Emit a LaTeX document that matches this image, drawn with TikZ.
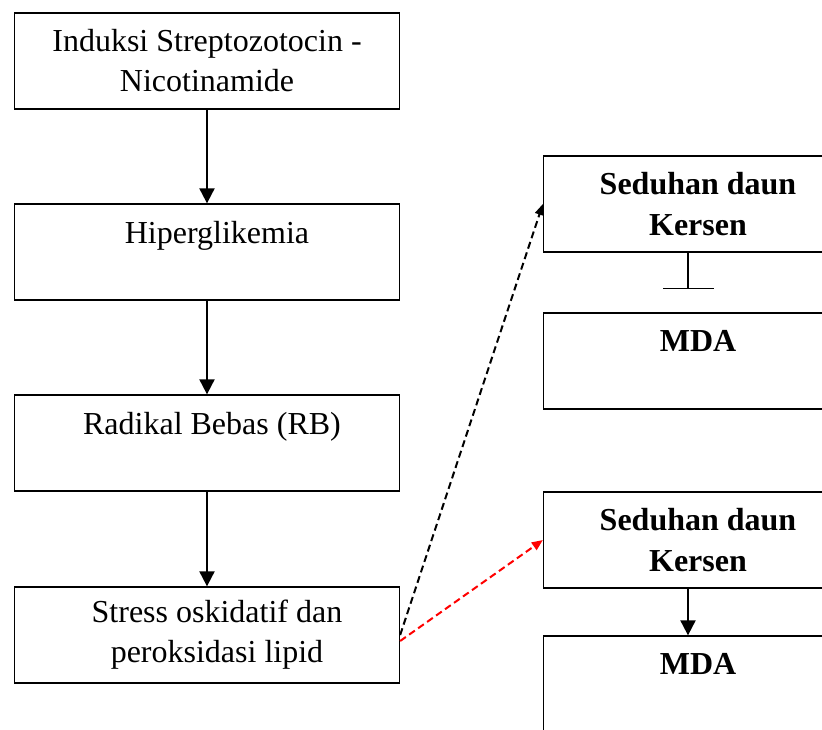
\documentclass[tikz,border=0pt]{standalone}
\usepackage{fontspec}
\setmainfont{Liberation Serif}
\usetikzlibrary{arrows.meta}
\newcommand{\indt}{\hspace*{20pt}}

\begin{document}
\begin{tikzpicture}[x=1pt,y=-1pt,line width=2pt,
	flow box/.style={rectangle,draw,line width=1.3pt,minimum width=385pt,minimum height=96pt,align=center,font=\fontsize{32}{40}\selectfont},
	herb box/.style={rectangle,draw,line width=1.3pt,minimum width=289pt,minimum height=96pt,align=center,font=\fontsize{32}{41}\selectfont\bfseries},
	flow/.style={-{Triangle[length=15pt,width=15pt]}},
	hint/.style={-{Triangle[length=11pt,width=9pt]},dash pattern=on 7pt off 4pt}]

				\useasboundingbox (0,0) rectangle (822,729);
				\clip (0,0) rectangle (822,729);

				\node[flow box] (induksi) at (207,61) {Induksi Streptozotocin -\\Nicotinamide};
				\node[flow box] (hiper) at (207,252) {\indt Hiperglikemia\\~};
				\node[flow box] (radikal) at (207,443) {\hspace*{10pt}Radikal Bebas (RB)\\~};
				\node[flow box] (stress) at (207,635) {\indt Stress oskidatif dan\\\indt peroksidasi lipid};

				\node[herb box] (seduhanA) at (688,204) {\indt Seduhan daun\\\indt Kersen};
				\node[herb box] (mdaA) at (688,361) {\indt MDA\\~};
				\node[herb box] (seduhanB) at (688,540) {\indt Seduhan daun\\\indt Kersen};
				\node[herb box] (mdaB) at (688,684) {\indt MDA\\~};
				\coordinate (inhib) at (688,289);

				\draw[flow] (induksi) -- (hiper);
				\draw[flow] (hiper) -- (radikal);
				\draw[flow] (radikal) -- (stress);
				\draw[flow] (seduhanB) -- (mdaB);
				\draw[line width=1.3pt,-{Bar[width=51pt]}] (seduhanA) -- (inhib);

				\draw[hint] (stress.east) -- (seduhanA.west);
				\draw[hint,red] ([yshift=-6pt]stress.east) -- (seduhanB.west);

\end{tikzpicture}
\end{document}
